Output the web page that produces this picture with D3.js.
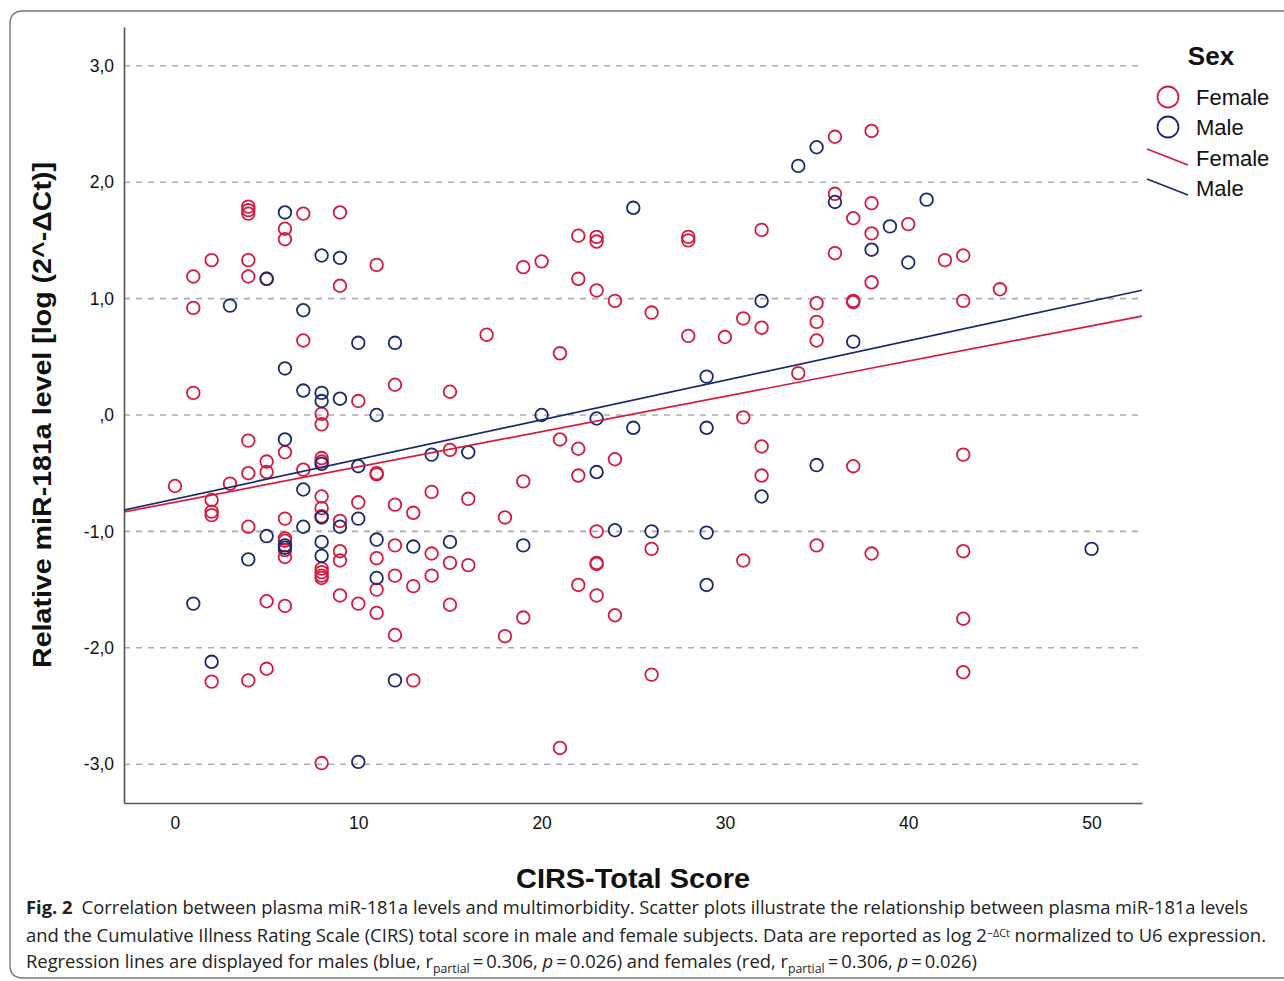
<!DOCTYPE html>
<html>
<head>
<meta charset="utf-8">
<script src="https://cdn.jsdelivr.net/npm/d3@7"></script>
<style>
  html, body { margin: 0; padding: 0; background: #fff; }
  svg { display: block; }
</style>
</head>
<body>
<svg id="chart" width="1284" height="981"></svg>
<script>
// ---------------- DATA ----------------
const femalePoints = [
  [0,-0.61],
  [1,1.19],[1,0.92],[1,0.19],
  [2,1.33],[2,-0.73],[2,-0.83],[2,-0.86],[2,-2.29],
  [3,-0.59],
  [4,1.79],[4,1.76],[4,1.73],[4,1.33],[4,1.19],[4,-0.22],[4,-0.50],[4,-0.96],[4,-2.28],
  [5,1.17],[5,-0.40],[5,-0.49],[5,-1.60],[5,-2.18],
  [6,1.60],[6,1.51],[6,-0.32],[6,-0.89],[6,-1.06],[6,-1.08],[6,-1.16],[6,-1.22],[6,-1.64],
  [7,1.73],[7,0.64],[7,-0.47],
  [8,0.01],[8,-0.08],[8,-0.37],[8,-0.40],[8,-0.70],[8,-0.80],[8,-0.87],[8,-1.32],[8,-1.35],[8,-1.38],[8,-1.40],[8,-2.99],
  [9,1.74],[9,1.11],[9,-0.91],[9,-1.17],[9,-1.25],[9,-1.55],
  [10,0.12],[10,-0.75],[10,-1.62],
  [11,1.29],[11,-0.50],[11,-0.51],[11,-1.23],[11,-1.50],[11,-1.70],
  [12,0.26],[12,-0.77],[12,-1.12],[12,-1.38],[12,-1.89],
  [13,-0.84],[13,-1.47],[13,-2.28],
  [14,-0.66],[14,-1.19],[14,-1.38],
  [15,0.20],[15,-0.30],[15,-1.27],[15,-1.63],
  [16,-0.72],[16,-1.29],
  [17,0.69],
  [18,-0.88],[18,-1.90],
  [19,1.27],[19,-0.57],[19,-1.74],
  [20,1.32],
  [21,0.53],[21,-0.21],[21,-2.86],
  [22,1.54],[22,1.17],[22,-0.29],[22,-0.52],[22,-1.46],
  [23,1.53],[23,1.49],[23,1.07],[23,-1.00],[23,-1.27],[23,-1.28],[23,-1.55],
  [24,0.98],[24,-0.38],[24,-1.72],
  [26,0.88],[26,-1.15],[26,-2.23],
  [28,1.53],[28,1.50],[28,0.68],
  [30,0.67],
  [31,0.83],[31,-0.02],[31,-1.25],
  [32,1.59],[32,0.75],[32,-0.27],[32,-0.52],
  [34,0.36],
  [35,0.96],[35,0.80],[35,0.64],[35,-1.12],
  [36,2.39],[36,1.90],[36,1.39],
  [37,1.69],[37,0.98],[37,0.97],[37,-0.44],
  [38,2.44],[38,1.82],[38,1.56],[38,1.14],[38,-1.19],
  [40,1.64],
  [42,1.33],
  [43,1.37],[43,0.98],[43,-0.34],[43,-1.17],[43,-1.75],[43,-2.21],
  [45,1.08]
];
const malePoints = [
  [1,-1.62],
  [2,-2.12],
  [3,0.94],
  [4,-1.24],
  [5,1.17],[5,-1.04],
  [6,1.74],[6,0.40],[6,-0.21],[6,-1.12],[6,-1.14],
  [7,0.90],[7,0.21],[7,-0.64],[7,-0.96],
  [8,1.37],[8,0.19],[8,0.12],[8,-0.42],[8,-0.88],[8,-1.09],[8,-1.21],
  [9,1.35],[9,0.14],[9,-0.96],
  [10,0.62],[10,-0.44],[10,-0.89],[10,-2.98],
  [11,0.00],[11,-1.07],[11,-1.40],
  [12,0.62],[12,-2.28],
  [13,-1.13],
  [14,-0.34],
  [15,-1.09],
  [16,-0.32],
  [19,-1.12],
  [20,0.00],
  [23,-0.03],[23,-0.49],
  [24,-0.99],
  [25,1.78],[25,-0.11],
  [26,-1.00],
  [29,0.33],[29,-0.11],[29,-1.01],[29,-1.46],
  [32,0.98],[32,-0.70],
  [34,2.14],
  [35,2.30],[35,-0.43],
  [36,1.83],
  [37,0.63],
  [38,1.42],
  [39,1.62],
  [40,1.31],
  [41,1.85],
  [50,-1.15]
];
// regression lines: [intercept, slope]
const femaleFit = [-0.749, 0.0303];
const maleFit = [-0.722, 0.0340];

const xTicks = [0, 10, 20, 30, 40, 50];
const yTicks = [3, 2, 1, 0, -1, -2, -3];
const yTickLabels = ["3,0", "2,0", "1,0", ",0", "-1,0", "-2,0", "-3,0"];
const xDomain = [-2.78, 52.75];
const yDomain = [-3.333, 3.333];

// ---------------- DRAW ----------------
const RED = "#d7193f";
const BLUE = "#1b2a6b";
const svg = d3.select("#chart");

// frame around figure
svg.append("path")
  .attr("d", "M1300,11 L23,11 Q10,11 10,24 L10,965 Q10,978 23,978 L1300,978")
  .attr("fill", "none").attr("stroke", "#777").attr("stroke-width", 1.4);

const x = d3.scaleLinear().domain(xDomain).range([124, 1142]);
const y = d3.scaleLinear().domain(yDomain).range([803, 27]);

// gridlines
svg.append("g").selectAll("line").data(yTicks).join("line")
  .attr("x1", x(xDomain[0])).attr("x2", x(xDomain[1]))
  .attr("y1", d => y(d)).attr("y2", d => y(d))
  .attr("stroke", "#acacac").attr("stroke-width", 1.6)
  .attr("stroke-dasharray", "6,6");

// axes
const yAxis = d3.axisLeft(y).tickValues(yTicks)
  .tickFormat((d, i) => yTickLabels[i]).tickSize(0).tickPadding(10);
const gy = svg.append("g").attr("transform", `translate(${x(xDomain[0])},0)`).call(yAxis);
gy.select(".domain").attr("stroke", "#555").attr("stroke-width", 1.6);
gy.selectAll("text").attr("font-family", "Liberation Sans, Arial, sans-serif")
  .attr("font-size", 17.5).attr("fill", "#111");

const xAxis = d3.axisBottom(x).tickValues(xTicks).tickSize(0).tickPadding(14);
const gx = svg.append("g").attr("transform", `translate(0,${y(yDomain[0])})`).call(xAxis);
gx.select(".domain").attr("stroke", "#555").attr("stroke-width", 1.6);
gx.selectAll("text").attr("font-family", "Liberation Sans, Arial, sans-serif")
  .attr("font-size", 17.5).attr("fill", "#111");

// points
const pts = svg.append("g");
pts.selectAll("circle.f").data(femalePoints).join("circle").attr("class", "f")
  .attr("cx", d => x(d[0])).attr("cy", d => y(d[1])).attr("r", 6.3)
  .attr("fill", "none").attr("stroke", RED).attr("stroke-width", 1.8);
pts.selectAll("circle.m").data(malePoints).join("circle").attr("class", "m")
  .attr("cx", d => x(d[0])).attr("cy", d => y(d[1])).attr("r", 6.3)
  .attr("fill", "none").attr("stroke", BLUE).attr("stroke-width", 1.8);

// regression lines
const fitLine = d3.line().x(d => x(d[0])).y(d => y(d[1]));
function fitPts(f) { return xDomain.map(v => [v, f[0] + f[1] * v]); }
svg.append("path").attr("d", fitLine(fitPts(femaleFit)))
  .attr("fill", "none").attr("stroke", RED).attr("stroke-width", 1.7);
svg.append("path").attr("d", fitLine(fitPts(maleFit)))
  .attr("fill", "none").attr("stroke", BLUE).attr("stroke-width", 1.7);

// axis titles
svg.append("text")
  .attr("transform", "translate(51,415) rotate(-90)")
  .attr("text-anchor", "middle")
  .attr("font-family", "Liberation Sans, Arial, sans-serif")
  .attr("font-weight", "bold").attr("font-size", 25.5).attr("fill", "#111")
  .attr("textLength", 506).attr("lengthAdjust", "spacingAndGlyphs")
  .text("Relative miR-181a level [log (2^-\u0394Ct)]");

svg.append("text")
  .attr("x", 633).attr("y", 888)
  .attr("text-anchor", "middle")
  .attr("font-family", "Liberation Sans, Arial, sans-serif")
  .attr("font-weight", "bold").attr("font-size", 27).attr("fill", "#111")
  .attr("textLength", 234).attr("lengthAdjust", "spacingAndGlyphs")
  .text("CIRS-Total Score");

// legend
const leg = svg.append("g").attr("font-family", "Liberation Sans, Arial, sans-serif").attr("fill", "#111");
leg.append("text").attr("x", 1211).attr("y", 65).attr("text-anchor", "middle")
  .attr("font-weight", "bold").attr("font-size", 26).text("Sex");
const legItems = [
  {type: "circle", color: RED, label: "Female", cy: 97},
  {type: "circle", color: BLUE, label: "Male", cy: 127},
  {type: "line", color: RED, label: "Female", cy: 158},
  {type: "line", color: BLUE, label: "Male", cy: 188}
];
legItems.forEach(it => {
  if (it.type === "circle") {
    leg.append("circle").attr("cx", 1168).attr("cy", it.cy).attr("r", 10.5)
      .attr("fill", "none").attr("stroke", it.color).attr("stroke-width", 1.8);
  } else {
    leg.append("line").attr("x1", 1147).attr("y1", it.cy - 9).attr("x2", 1188).attr("y2", it.cy + 7)
      .attr("stroke", it.color).attr("stroke-width", 1.7);
  }
  leg.append("text").attr("x", 1196).attr("y", it.cy + 8).attr("font-size", 22).text(it.label);
});

// caption
const cap = svg.append("g").attr("font-family", "Liberation Sans Narrow, Open Sans, sans-serif")
  .attr("font-size", 18).attr("fill", "#222");
const l1 = cap.append("text").attr("x", 26).attr("y", 914)
  .attr("textLength", 1222).attr("lengthAdjust", "spacingAndGlyphs");
l1.append("tspan").attr("font-weight", "bold").text("Fig. 2");
l1.append("tspan").text("\u2002Correlation between plasma miR-181a levels and multimorbidity. Scatter plots illustrate the relationship between plasma miR-181a levels");
const l2 = cap.append("text").attr("x", 26).attr("y", 942)
  .attr("textLength", 1240).attr("lengthAdjust", "spacingAndGlyphs");
l2.append("tspan").text("and the Cumulative Illness Rating Scale (CIRS) total score in male and female subjects. Data are reported as log 2");
l2.append("tspan").attr("font-size", 10.5).attr("dy", -5).text("\u2212\u0394Ct");
l2.append("tspan").attr("dy", 5).text(" normalized to U6 expression.");
const l3 = cap.append("text").attr("x", 26).attr("y", 968)
  .attr("textLength", 951).attr("lengthAdjust", "spacingAndGlyphs");
l3.append("tspan").text("Regression lines are displayed for males (blue, r");
l3.append("tspan").attr("font-size", 12).attr("dy", 5).text("partial");
l3.append("tspan").attr("dy", -5).text("\u2009=\u20090.306, ");
l3.append("tspan").attr("font-style", "italic").text("p");
l3.append("tspan").text("\u2009=\u20090.026) and females (red, r");
l3.append("tspan").attr("font-size", 12).attr("dy", 5).text("partial");
l3.append("tspan").attr("dy", -5).text("\u2009=\u20090.306, ");
l3.append("tspan").attr("font-style", "italic").text("p");
l3.append("tspan").text("\u2009=\u20090.026)");
</script>
</body>
</html>
